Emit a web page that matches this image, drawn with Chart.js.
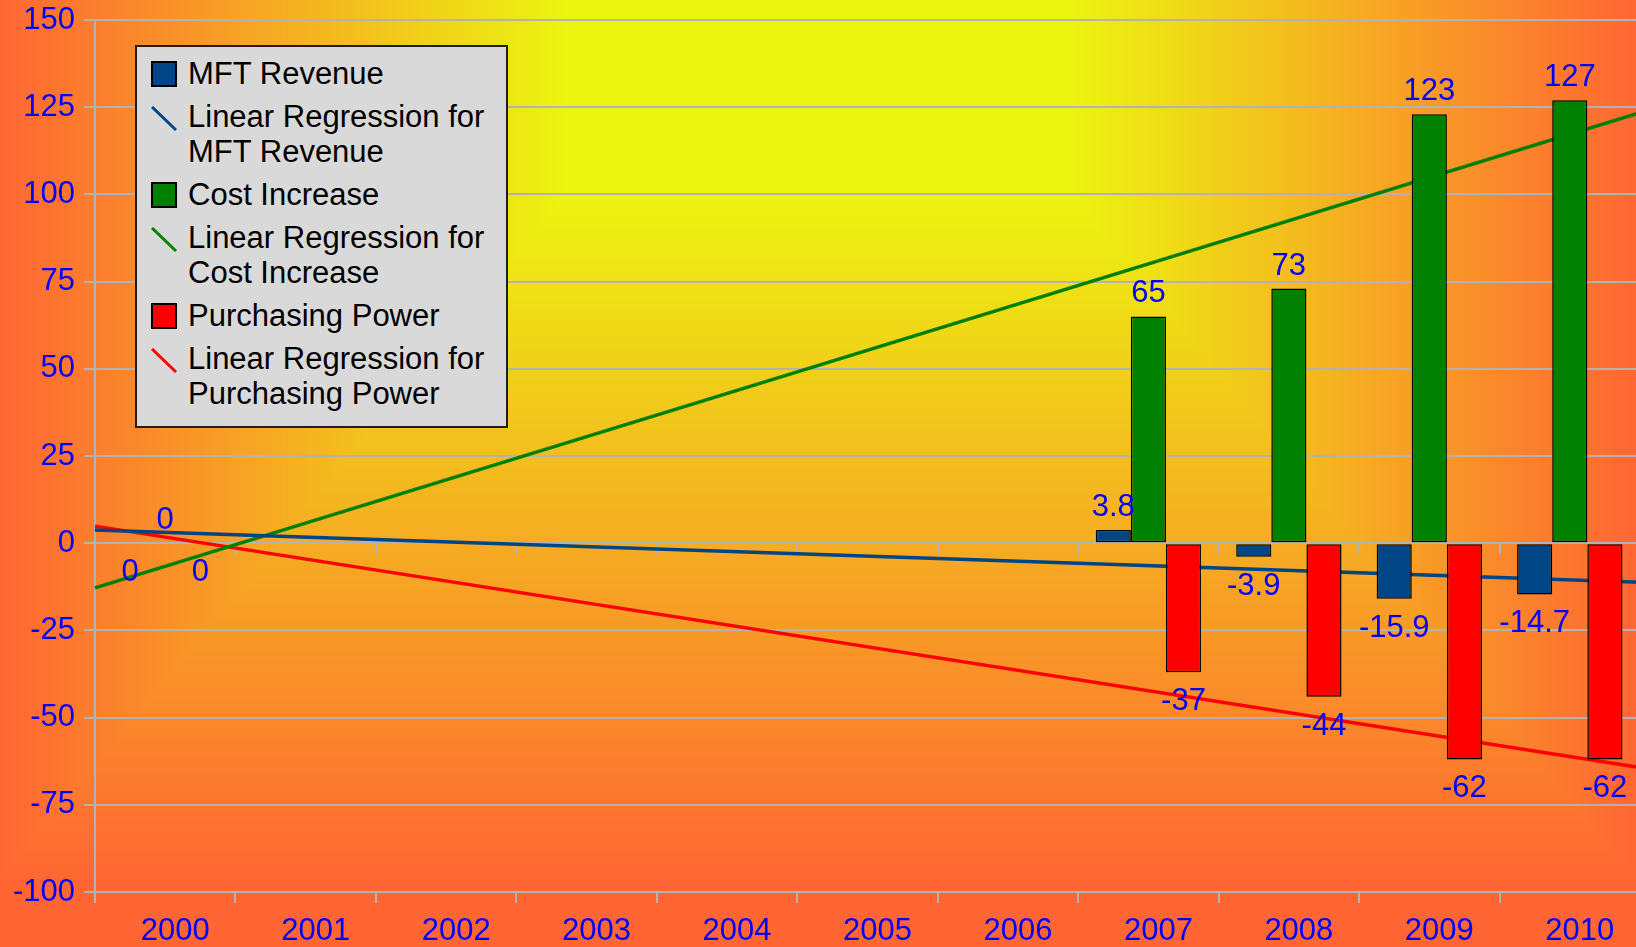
<!DOCTYPE html>
<html lang="en">

<head>
  <meta charset="UTF-8">
  <title>MFT Revenue, Cost Increase and Purchasing Power</title>
  <script src="https://cdn.jsdelivr.net/npm/chart.js"></script>
  <style>
    html,
    body {
      margin: 0;
      padding: 0;
      width: 1636px;
      height: 947px;
      overflow: hidden;
    }

    .chart-wrap {
      position: absolute;
      left: 0;
      top: 0;
      /* the plot runs a few pixels past the right edge of the window */
      width: 1640px;
      height: 947px;
    }

    .legend-box {
      position: absolute;
      left: 135px;
      top: 45px;
      width: 373px;
      height: 383px;
      box-sizing: border-box;
      padding-top: 9px;
      background: #d9d9d9;
      border: 2px solid #1f1f1f;
      font-family: 'Liberation Sans', Arial, sans-serif;
      font-size: 31px;
      line-height: 35.5px;
      color: #000;
    }

    .legend-item {
      display: flex;
      margin-bottom: 7.3px;
    }

    .legend-marker {
      flex: none;
      width: 26px;
      margin-left: 14px;
    }

    .legend-marker .sq {
      width: 22px;
      height: 22px;
      margin-top: 5px;
      border: 2px solid #000;
    }

    .legend-marker svg {
      display: block;
      margin-top: 7px;
    }

    .legend-text {
      margin-left: 11px;
      width: 310px;
    }
  </style>
</head>

<body>
  <div class="chart-wrap">
    <canvas id="grafico"></canvas>
  </div>
  <div class="legend-box" id="leyenda"></div>

  <script>
    const years = ['2000', '2001', '2002', '2003', '2004', '2005', '2006', '2007', '2008', '2009', '2010'];
    const mftRevenue = [0, null, null, null, null, null, null, 3.8, -3.9, -15.9, -14.7];
    const costIncrease = [0, null, null, null, null, null, null, 65, 73, 123, 127];
    const purchasingPower = [0, null, null, null, null, null, null, -37, -44, -62, -62];

    // regression lines, read at the left and right edges of the plot
    // (x in category index units: -0.5 is the left edge of 2000, 10.5 the right edge of 2010)
    const trendX = [-0.5, 10.5];
    const mftTrend = [3.8, -11.2];
    const costTrend = [-12.8, 123.4];
    const powerTrend = [4.9, -64.3];

    const yMin = -100;
    const yMax = 150;
    const yStep = 25;

    const blue = '#004586';
    const green = '#008000';
    const red = '#ff0000';
    const gridGrey = '#b3b3b3';
    const labelBlue = '#0000ff';
    const fontFamily = "'Liberation Sans', Arial, sans-serif";
    const tickFont = { family: fontFamily, size: 31 };

    const toPoints = ys => trendX.map((x, i) => ({ x: x, y: ys[i] }));

    // background: yellow at the top centre fading to orange-red at the edges
    let backdropImage = null;
    const backdrop = {
      id: 'backdrop',
      beforeDraw(chart) {
        const { ctx, width, height } = chart;
        if (!backdropImage) {
          backdropImage = document.createElement('canvas');
          backdropImage.width = width;
          backdropImage.height = height;
          const bctx = backdropImage.getContext('2d');
          const img = bctx.createImageData(width, height);
          const c0 = [236, 245, 16];
          const c1 = [255, 102, 51];
          const cx = 818;
          for (let y = 0; y < height; y++) {
            const ty = (y - 190) / 690;
            for (let x = 0; x < width; x++) {
              const tx = (Math.abs(x - cx) - 250) / 568;
              const t = Math.min(1, Math.max(0, tx, ty));
              const k = (y * width + x) * 4;
              img.data[k] = c0[0] + (c1[0] - c0[0]) * t;
              img.data[k + 1] = c0[1] + (c1[1] - c0[1]) * t;
              img.data[k + 2] = c0[2] + (c1[2] - c0[2]) * t;
              img.data[k + 3] = 255;
            }
          }
          bctx.putImageData(img, 0, 0);
        }
        ctx.drawImage(backdropImage, 0, 0);
      }
    };

    // value labels above positive bars and below negative ones
    const valueLabels = {
      id: 'valueLabels',
      afterDatasetsDraw(chart) {
        const ctx = chart.ctx;
        ctx.save();
        ctx.font = '31px ' + fontFamily;
        ctx.fillStyle = labelBlue;
        ctx.textAlign = 'center';
        ctx.textBaseline = 'alphabetic';
        chart.data.datasets.forEach((ds, i) => {
          if (ds.type !== 'bar') return;
          const meta = chart.getDatasetMeta(i);
          meta.data.forEach((bar, j) => {
            const v = ds.data[j];
            if (v === null) return;
            const below = v < 0 || (v === 0 && ds.zeroBelow);
            ctx.fillText(String(v), bar.x, below ? bar.y + 38 : bar.y - 14);
          });
        });
        ctx.restore();
      }
    };

    const barStyle = { borderColor: '#000', borderWidth: 1.5, borderSkipped: false, order: 1 };
    const lineStyle = { parsing: false, borderWidth: 3.5, pointRadius: 0, fill: false, order: 2 };

    const datasets = [
      Object.assign({ type: 'bar', label: 'MFT Revenue', data: mftRevenue, backgroundColor: blue, zeroBelow: true }, barStyle),
      Object.assign({ type: 'line', label: 'Linear Regression for MFT Revenue', data: toPoints(mftTrend), borderColor: blue }, lineStyle),
      Object.assign({ type: 'bar', label: 'Cost Increase', data: costIncrease, backgroundColor: green, zeroBelow: false }, barStyle),
      Object.assign({ type: 'line', label: 'Linear Regression for Cost Increase', data: toPoints(costTrend), borderColor: green }, lineStyle),
      Object.assign({ type: 'bar', label: 'Purchasing Power', data: purchasingPower, backgroundColor: red, zeroBelow: true }, barStyle),
      Object.assign({ type: 'line', label: 'Linear Regression for Purchasing Power', data: toPoints(powerTrend), borderColor: red }, lineStyle)
    ];

    new Chart(document.getElementById('grafico'), {
      type: 'bar',
      data: { labels: years, datasets: datasets },
      options: {
        responsive: true,
        maintainAspectRatio: false,
        animation: false,
        categoryPercentage: 0.75,
        barPercentage: 1.0,
        layout: { padding: 0 },
        plugins: { legend: { display: false }, tooltip: { enabled: false } },
        scales: {
          x: {
            type: 'category',
            position: 'bottom',
            offset: true,
            grid: { offset: true, drawOnChartArea: false, color: gridGrey, lineWidth: 2, tickLength: 11 },
            border: { color: gridGrey, width: 2 },
            ticks: { color: labelBlue, font: tickFont, padding: 10, labelOffset: 10, maxRotation: 0, autoSkip: false },
            afterFit: s => { s.height = 55; }
          },
          x0: {
            type: 'category',
            position: { y: 0 },
            offset: true,
            grid: { offset: true, drawOnChartArea: false, color: gridGrey, lineWidth: 2, tickLength: 11 },
            border: { display: false },
            ticks: { display: false }
          },
          y: {
            min: yMin,
            max: yMax,
            ticks: { stepSize: yStep, color: labelBlue, font: tickFont, padding: 9 },
            grid: { color: gridGrey, lineWidth: 2, tickLength: 11 },
            border: { color: gridGrey, width: 2 },
            afterFit: s => {
              s.width = 95;
              s.paddingTop = 20;
              s.paddingBottom = 0;
            }
          }
        }
      },
      plugins: [backdrop, valueLabels]
    });

    // legend as html, two lines for the long names like the original
    const leyenda = document.getElementById('leyenda');
    datasets.forEach(ds => {
      const item = document.createElement('div');
      item.className = 'legend-item';
      const color = ds.type === 'bar' ? ds.backgroundColor : ds.borderColor;
      const marker = ds.type === 'bar'
        ? `<div class="sq" style="background:${color}"></div>`
        : `<svg width="26" height="26"><line x1="1" y1="1" x2="25" y2="24" stroke="${color}" stroke-width="3"/></svg>`;
      item.innerHTML = `<div class="legend-marker">${marker}</div><div class="legend-text">${ds.label}</div>`;
      leyenda.appendChild(item);
    });
  </script>

</body>

</html>
